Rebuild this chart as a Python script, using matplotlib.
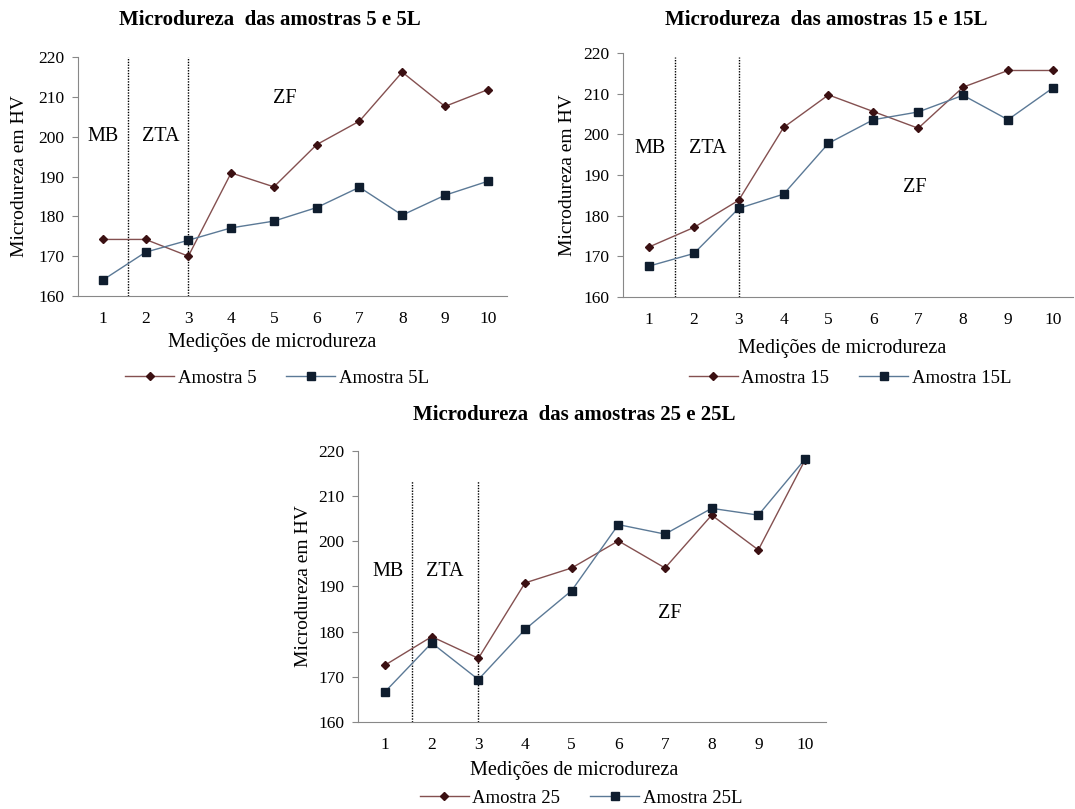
import numpy as np
import matplotlib
matplotlib.use("Agg")
import matplotlib.pyplot as plt

plt.rcParams['font.family'] = ['Liberation Serif', 'DejaVu Serif']

medicoes = np.arange(1, 11)

amostra_5 = [174.2, 174.2, 170.0, 190.9, 187.4, 198.0, 203.9, 216.2, 207.6, 211.8]
amostra_5L = [164.0, 171.0, 174.0, 177.1, 178.8, 182.2, 187.3, 180.3, 185.3, 188.8]

amostra_15 = [172.3, 177.1, 183.8, 201.7, 209.7, 205.6, 201.5, 211.6, 215.7, 215.7]
amostra_15L = [167.6, 170.7, 181.8, 185.3, 197.8, 203.6, 205.5, 209.6, 203.6, 211.4]

amostra_25 = [172.6, 178.9, 174.1, 190.8, 194.1, 200.1, 194.1, 205.8, 198.1, 218.0]
amostra_25L = [166.7, 177.5, 169.4, 180.5, 189.1, 203.7, 201.6, 207.3, 205.8, 218.2]

red_line = "#845050"
red_mark = "#3b1012"
blue_line = "#5b7996"
blue_mark = "#0f1d2e"

W, H = 1075, 809

# pixel layout of each panel (left, bottom, right, top) and text anchors
panels = [
    dict(box=(78, 296, 507, 57), title="Microdureza  das amostras 5 e 5L", title_xy=(270, 20),
         a=amostra_5, b=amostra_5L, la="Amostra 5", lb="Amostra 5L",
         vtop=220, mb=(1.0, 200), zta=2.35, zf=(5.25, 209.7),
         xlab_xy=(272, 343), ylab_x=20, leg_xy=(277, 378)),
    dict(box=(623, 297, 1073, 53), title="Microdureza  das amostras 15 e 15L", title_xy=(826, 20),
         a=amostra_15, b=amostra_15L, la="Amostra 15", lb="Amostra 15L",
         vtop=219, mb=(1.02, 196.5), zta=2.3, zf=(6.92, 187),
         xlab_xy=(842, 348), ylab_x=567, leg_xy=(850, 378)),
    dict(box=(358, 722, 826, 451), title="Microdureza  das amostras 25 e 25L", title_xy=(574, 415),
         a=amostra_25, b=amostra_25L, la="Amostra 25", lb="Amostra 25L",
         vtop=213.4, mb=(1.06, 193.3), zta=2.28, zf=(7.1, 184),
         xlab_xy=(574, 770), ylab_x=303, leg_xy=(581, 798)),
]

fig = plt.figure(figsize=(W / 100, H / 100), dpi=100)

for p in panels:
    l, b, r, t = p["box"]
    ax = fig.add_axes([l / W, 1 - b / H, (r - l) / W, (b - t) / H])
    ax.plot(medicoes, p["a"], color=red_line, lw=1.0, marker="D", ms=4.2,
            mfc=red_mark, mec=red_mark, label=p["la"], zorder=3)
    ax.plot(medicoes, p["b"], color=blue_line, lw=1.0, marker="s", ms=6.3,
            mfc=blue_mark, mec=blue_mark, label=p["lb"], zorder=3)

    ax.set_xlim(0.42, 10.45)
    ax.set_ylim(160, 220)
    ax.set_xticks(medicoes)
    ax.set_yticks(np.arange(160, 221, 10))
    ax.tick_params(axis="x", length=0, labelsize=12.5, pad=11)
    ax.tick_params(axis="y", length=4, direction="out", labelsize=12.5, pad=6, color="#888888")
    for s in ["top", "right"]:
        ax.spines[s].set_visible(False)
    for s in ["left", "bottom"]:
        ax.spines[s].set_color("#888888")

    # limites das zonas
    ax.vlines([1.58, 3.0], 160, p["vtop"], colors="black", linestyles=(0, (1, 1)), lw=1.0, zorder=2)
    ax.text(p["mb"][0], p["mb"][1], "MB", fontsize=14.5, ha="center", va="center")
    ax.text(p["zta"], p["mb"][1], "ZTA", fontsize=14.5, ha="center", va="center")
    ax.text(p["zf"][0], p["zf"][1], "ZF", fontsize=14.5, ha="center", va="center")

    fig.text(p["title_xy"][0] / W, 1 - p["title_xy"][1] / H, p["title"],
             fontsize=15, fontweight="bold", ha="center", va="center")

    ax.set_xlabel("Medições de microdureza", fontsize=14.5)
    ax.xaxis.label.set_va("center")
    ax.xaxis.set_label_coords((p["xlab_xy"][0] - l) / (r - l), (b - p["xlab_xy"][1]) / (b - t))
    ax.set_ylabel("Microdureza em HV", fontsize=14)
    ax.yaxis.label.set_va("center")
    ax.yaxis.set_label_coords((p["ylab_x"] - l) / (r - l), 0.5)

    ax.legend(loc="center", bbox_to_anchor=(p["leg_xy"][0] / W, 1 - p["leg_xy"][1] / H),
              bbox_transform=fig.transFigure, ncol=2, frameon=False,
              fontsize=13.5, handlelength=2.6, columnspacing=1.6, handletextpad=0.2,
              borderpad=0, borderaxespad=0)

fig.savefig("out.png", dpi=100, facecolor="white")
